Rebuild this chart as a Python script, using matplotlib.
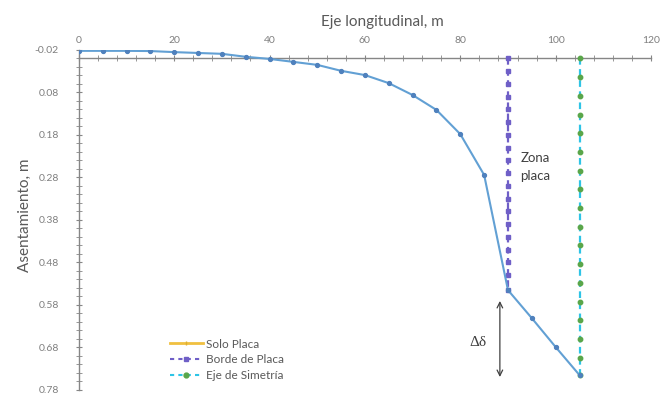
import matplotlib.pyplot as plt
from matplotlib.lines import Line2D
from matplotlib.ticker import MultipleLocator, FixedLocator

plt.rcParams['font.family'] = ['Lato', 'DejaVu Sans']

# Datos
eje_x = [0, 5, 10, 15, 20, 25, 30, 35, 40, 45, 50, 55, 60, 65, 70, 75, 80, 85, 90, 95, 100, 105]
asentamiento = [-0.018, -0.018, -0.018, -0.0175, -0.015, -0.013, -0.011, -0.004, 0.001, 0.008,
                0.015, 0.029, 0.039, 0.058, 0.086, 0.121, 0.178, 0.274, 0.545, 0.611, 0.679, 0.745]

borde_x = 90
borde_y = [0.0, 0.03, 0.06, 0.09, 0.12, 0.15, 0.18, 0.21, 0.24, 0.27, 0.30, 0.33, 0.36,
           0.39, 0.42, 0.45, 0.48, 0.51, 0.545]
simetria_x = 105
simetria_y = [0.0, 0.044, 0.088, 0.132, 0.176, 0.22, 0.264, 0.308, 0.352, 0.396, 0.44,
              0.484, 0.528, 0.572, 0.616, 0.66, 0.704, 0.745]

y_ticks = [-0.02, 0.08, 0.18, 0.28, 0.38, 0.48, 0.58, 0.68, 0.78]

gris = '#7f7f7f'

fig = plt.figure(figsize=(6.68, 3.99), dpi=100)
ax = fig.add_axes([0.118, 0.0226, 0.8566, 0.8521])

# lineas verticales
ax.plot([borde_x] * len(borde_y), borde_y, color='#6f5fc7', ls=(0, (3, 2)), lw=1.6,
        marker='s', ms=2.3, zorder=3)
ax.plot([simetria_x] * len(simetria_y), simetria_y, color='#2ec4e6', ls=(0, (3, 2)), lw=1.6,
        marker='o', ms=3.2, mfc='#5aa64a', mec='#5aa64a', zorder=3)

# curva principal
ax.plot(eje_x, asentamiento, color='#62a0d4', lw=1.5, marker='o', ms=2.8,
        mfc='#4f81bd', mec='#4f81bd', zorder=4)

ax.set_xlim(0, 120)
ax.set_ylim(0.78, -0.02)

ax.spines['top'].set_position(('data', 0))
ax.spines['bottom'].set_visible(False)
ax.spines['right'].set_visible(False)
for s in ['top', 'left']:
    ax.spines[s].set_color('#868686')
    ax.spines[s].set_linewidth(1.0)

ax.xaxis.tick_top()
ax.xaxis.set_major_locator(MultipleLocator(20))
ax.xaxis.set_minor_locator(MultipleLocator(4))
ax.yaxis.set_major_locator(FixedLocator(y_ticks))
ax.yaxis.set_minor_locator(MultipleLocator(0.02))
ax.set_yticklabels([f'{v:.2f}' for v in y_ticks])

ax.tick_params(axis='x', which='both', direction='inout', colors='#868686', labelcolor=gris,
               labelsize=7.5, pad=7)
ax.tick_params(axis='x', which='major', length=5)
ax.tick_params(axis='x', which='minor', length=4)
ax.tick_params(axis='y', which='both', direction='inout', colors='#868686', labelcolor=gris,
               labelsize=7.5, pad=12)
ax.tick_params(axis='y', which='major', length=5)
ax.tick_params(axis='y', which='minor', length=4)

fig.text(0.573, 0.945, 'Eje longitudinal, m', ha='center', va='center', fontsize=11, color='#595959')
fig.text(0.037, 0.46, 'Asentamiento, m', ha='center', va='center', rotation=90,
         fontsize=11, color='#595959')

ax.text(95.7, 0.255, 'Zona\nplaca', ha='center', va='center', fontsize=9.5, color='#404040',
        linespacing=1.6)
ax.text(83.7, 0.669, 'Δδ', ha='center', va='center', fontsize=11, color='#404040',
        family=['Liberation Serif', 'DejaVu Serif'])
ax.annotate('', xy=(88.3, 0.756), xytext=(88.3, 0.564),
            arrowprops=dict(arrowstyle='<->', color='#404040', lw=0.9))

handles = [
    Line2D([], [], color='#f0c040', lw=2, marker='|', ms=3, mec='#e0b030'),
    Line2D([], [], color='#6f5fc7', ls=(0, (2, 2)), lw=1.5, marker='s', ms=3),
    Line2D([], [], color='#2ec4e6', ls=(0, (2, 2)), lw=1.5, marker='o', ms=3.5,
           mfc='#5aa64a', mec='#5aa64a'),
]
labels = ['Solo Placa', 'Borde de Placa', 'Eje de Simetría']
leg = ax.legend(handles, labels, loc='lower left', bbox_to_anchor=(0.14, -0.005), frameon=False,
                fontsize=8.5, handlelength=2.8, handletextpad=0.3, labelspacing=0.4,
                labelcolor='#595959')

fig.savefig('out.png', dpi=100)
